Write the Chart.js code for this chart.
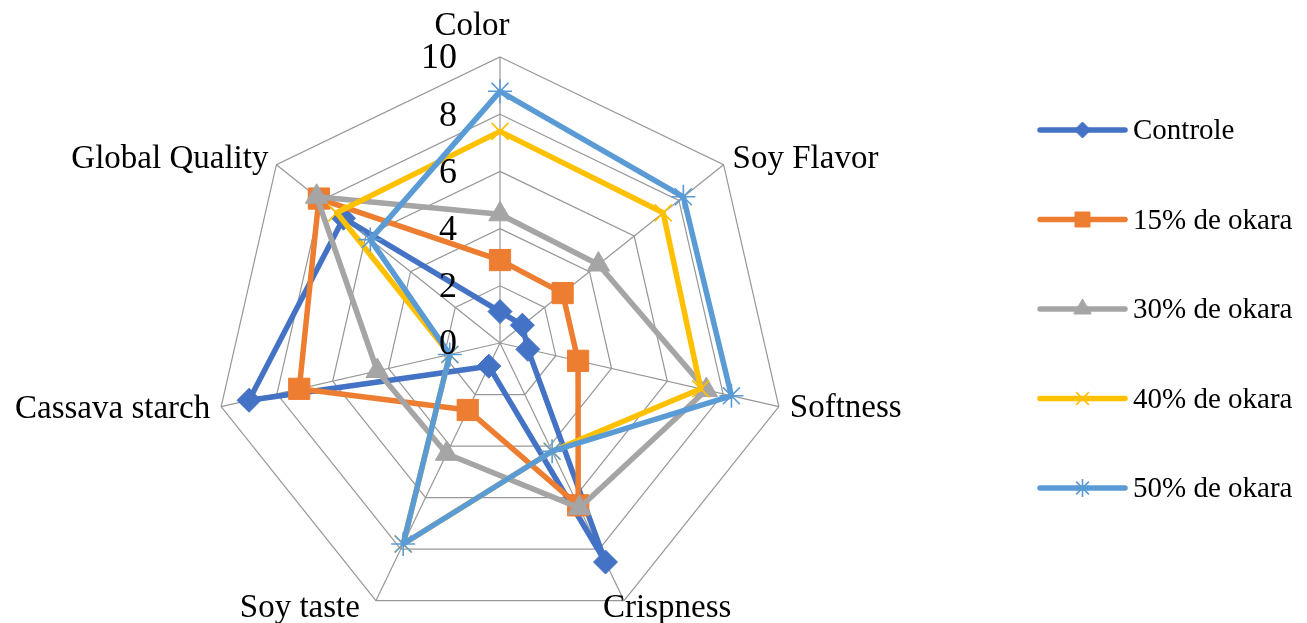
<!DOCTYPE html>
<html>
<head>
<meta charset="utf-8">
<script src="https://cdn.jsdelivr.net/npm/chart.js@4.4.1/dist/chart.umd.min.js"></script>
<style>
  html, body { margin: 0; padding: 0; background: #ffffff; }
  canvas { display: block; }
</style>
</head>
<body>
<canvas id="c" width="1307" height="623"></canvas>
<script>
// ---- Data ----
const categories = ['Color', 'Soy Flavor', 'Softness', 'Crispness', 'Soy taste', 'Cassava starch', 'Global Quality'];
const seriesNames = ['Controle', '15% de okara', '30% de okara', '40% de okara', '50% de okara'];
const controle = [1.1, 1.0, 1.0, 8.5, 0.9, 9.0, 7.0];
const okara15  = [2.9, 2.8, 2.8, 6.3, 2.6, 7.2, 8.1];
const okara30  = [4.5, 4.4, 7.4, 6.4, 4.3, 4.4, 8.2];
const okara40  = [7.4, 7.3, 7.2, 4.2, 7.8, 1.8, 7.3];
const okara50  = [8.8, 8.2, 8.3, 4.2, 7.8, 1.8, 5.8];
const tickValues = [0, 2, 4, 6, 8, 10];

// ---- Styles ----
const colors = ['#4472C4', '#ED7D31', '#A5A5A5', '#FFC000', '#5B9BD5'];
const styles = ['rectRot', 'rect', 'triangle', 'crossRot', 'star'];
const radii = [12, 15, 13, 12, 12];
const legendRadii = [8, 10.6, 10, 9, 9];
const seriesData = [controle, okara15, okara30, okara40, okara50];

const SERIF = '"Liberation Serif", "Times New Roman", serif';

const datasets = seriesData.map((d, i) => ({
  label: seriesNames[i],
  data: d,
  borderColor: colors[i],
  backgroundColor: colors[i],
  borderWidth: 5.5,
  fill: false,
  tension: 0,
  pointStyle: styles[i],
  pointRadius: radii[i],
  pointHoverRadius: radii[i],
  pointBackgroundColor: colors[i],
  pointBorderColor: colors[i],
  pointBorderWidth: (styles[i] === 'crossRot' || styles[i] === 'star') ? 1.6 : 1,
  order: seriesData.length - i,
  clip: false
}));

// label offsets relative to outer vertex: [dx, dy, align]
const labelOffsets = [
  [-28, -22, 'center'],
  [9, 3, 'left'],
  [11, 10, 'left'],
  [-21, 16, 'left'],
  [-16, 16, 'right'],
  [-11, 11, 'right'],
  [-8, 3, 'right']
];

const customDraw = {
  id: 'customDraw',
  beforeDraw(chart) {
    const ctx = chart.ctx;
    ctx.save();
    ctx.fillStyle = '#ffffff';
    ctx.fillRect(0, 0, chart.width, chart.height);
    ctx.restore();
  },
  afterDraw(chart) {
    const ctx = chart.ctx;
    const scale = chart.scales.r;
    ctx.save();
    ctx.fillStyle = '#000000';
    // point labels
    ctx.font = '33px ' + SERIF;
    ctx.textBaseline = 'alphabetic';
    categories.forEach((c, i) => {
      const p = scale.getPointPosition(i, scale.drawingArea);
      const o = labelOffsets[i];
      ctx.textAlign = o[2];
      ctx.fillText(c, p.x + o[0], p.y + o[1]);
    });
    // tick labels
    ctx.font = '36px ' + SERIF;
    ctx.textAlign = 'right';
    ctx.textBaseline = 'middle';
    tickValues.forEach(v => {
      const y = scale.yCenter - scale.getDistanceFromCenterForValue(v);
      ctx.fillText(String(v), scale.xCenter - 43, y + 2);
    });
    // legend
    const lx0 = 1040, lx1 = 1125, ltx = 1133;
    const ly0 = 130, lstep = 89.5;
    chart.data.datasets.forEach((ds, i) => {
      const y = ly0 + i * lstep;
      ctx.beginPath();
      ctx.lineCap = 'round';
      ctx.lineWidth = 5.5;
      ctx.strokeStyle = ds.borderColor;
      ctx.moveTo(lx0, y);
      ctx.lineTo(lx1, y);
      ctx.stroke();
      ctx.fillStyle = ds.borderColor;
      ctx.strokeStyle = ds.borderColor;
      ctx.lineWidth = ds.pointBorderWidth;
      ctx.lineCap = 'butt';
      Chart.helpers.drawPoint(ctx, {
        pointStyle: ds.pointStyle,
        radius: legendRadii[i],
        rotation: 0,
        borderWidth: ds.pointBorderWidth
      }, (lx0 + lx1) / 2, y);
      ctx.fillStyle = '#000000';
      ctx.font = '29px ' + SERIF;
      ctx.textAlign = 'left';
      ctx.textBaseline = 'alphabetic';
      ctx.fillText(ds.label, ltx, y + 9);
    });
    ctx.restore();
  }
};

new Chart(document.getElementById('c'), {
  type: 'radar',
  data: { labels: categories, datasets: datasets },
  options: {
    responsive: false,
    devicePixelRatio: 1,
    animation: false,
    layout: { padding: 0 },
    plugins: { legend: { display: false }, tooltip: { enabled: false } },
    elements: { line: { borderJoinStyle: 'round' } },
    scales: {
      r: {
        min: 0,
        max: 10,
        beginAtZero: true,
        ticks: { stepSize: 2, display: false },
        grid: { color: '#979797', lineWidth: 1.2, circular: false },
        angleLines: { color: '#979797', lineWidth: 1.2 },
        pointLabels: { display: false },
        afterFit(scale) {
          scale.xCenter = 500;
          scale.yCenter = 343;
          scale.drawingArea = 286;
        }
      }
    }
  },
  plugins: [customDraw]
});
</script>
</body>
</html>
